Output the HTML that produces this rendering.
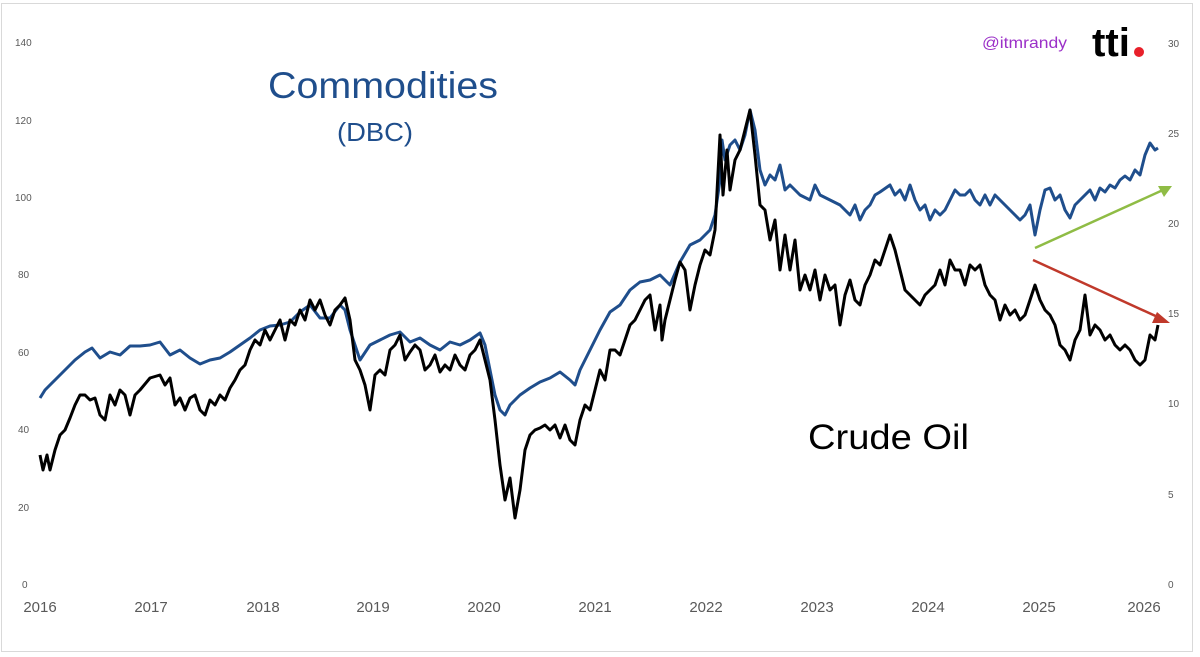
<!DOCTYPE html>
<html><head><meta charset="utf-8"><style>
body{margin:0;background:#fff;}
svg{display:block;font-family:"Liberation Sans",sans-serif;}
</style></head><body>
<svg width="1200" height="657" viewBox="0 0 1200 657">
<rect x="1.5" y="3.5" width="1191" height="648" fill="#fff" stroke="#d9d9d9"/>
<g font-size="10" fill="#595959">
<text x="22" y="588">0</text><text x="18" y="511">20</text><text x="18" y="433">40</text><text x="18" y="356">60</text><text x="18" y="278">80</text><text x="15" y="201">100</text><text x="15" y="124">120</text><text x="15" y="46">140</text>
<text x="1168" y="588">0</text><text x="1168" y="498">5</text><text x="1168" y="407">10</text><text x="1168" y="317">15</text><text x="1168" y="227">20</text><text x="1168" y="137">25</text><text x="1168" y="47">30</text>
</g>
<g font-size="15" fill="#595959" text-anchor="middle">
<text x="40" y="612">2016</text><text x="151" y="612">2017</text><text x="263" y="612">2018</text><text x="373" y="612">2019</text><text x="484" y="612">2020</text><text x="595" y="612">2021</text><text x="706" y="612">2022</text><text x="817" y="612">2023</text><text x="928" y="612">2024</text><text x="1039" y="612">2025</text><text x="1144" y="612">2026</text>
</g>
<text x="268" y="98" font-size="37" fill="#1f4e8c" textLength="230" lengthAdjust="spacingAndGlyphs">Commodities</text>
<text x="337" y="141" font-size="26" fill="#1f4e8c" textLength="76" lengthAdjust="spacingAndGlyphs">(DBC)</text>
<text x="808" y="449" font-size="35" fill="#000" textLength="161" lengthAdjust="spacingAndGlyphs">Crude Oil</text>
<text x="982" y="48" font-size="16" fill="#9b30c8" textLength="85" lengthAdjust="spacingAndGlyphs">@itmrandy</text>
<text x="1092" y="56" font-size="40" font-weight="bold" fill="#000" textLength="38" lengthAdjust="spacingAndGlyphs">tti</text>
<circle cx="1139" cy="52" r="5" fill="#e8202a"/>
<polyline fill="none" stroke="#1f4e8c" stroke-width="3" stroke-linejoin="round" points="40,398 45,390 55,380 65,370 75,360 85,352 92,348 100,358 110,352 120,355 130,346 140,346 150,345 160,342 170,355 180,350 190,358 200,364 210,360 220,358 230,352 240,345 250,338 260,330 270,326 280,325 290,322 300,312 310,305 320,318 330,318 340,305 345,310 350,330 355,345 360,360 370,345 380,340 390,335 400,332 410,342 420,338 430,345 440,350 450,342 460,345 470,340 480,333 485,345 490,370 495,395 500,410 505,415 510,405 515,400 520,395 530,388 540,382 550,378 560,372 570,380 575,385 580,370 590,350 600,330 610,312 620,305 630,290 640,282 650,280 660,275 670,285 680,262 690,245 700,240 710,230 715,215 720,180 722,140 725,160 730,145 735,140 740,150 745,135 750,110 755,130 760,170 765,185 770,175 775,180 780,165 785,190 790,185 800,195 810,200 815,185 820,195 830,200 840,205 850,215 855,205 860,220 865,210 870,205 875,195 880,192 890,185 895,195 900,190 905,200 910,185 915,200 920,210 925,205 930,220 935,210 940,215 945,210 950,200 955,190 960,195 965,195 970,190 975,200 980,205 985,195 990,205 995,195 1000,200 1005,205 1010,210 1015,215 1020,220 1025,215 1030,205 1035,235 1040,210 1045,190 1050,188 1055,200 1060,195 1065,210 1070,218 1075,205 1080,200 1085,195 1090,190 1095,200 1100,188 1105,192 1110,185 1115,188 1120,180 1125,176 1130,180 1135,170 1140,175 1145,155 1150,143 1155,150 1158,148"/>
<polyline fill="none" stroke="#000" stroke-width="3" stroke-linejoin="round" points="40,455 43,470 47,455 50,470 55,450 60,435 65,430 70,418 75,405 80,395 85,395 90,400 95,398 100,415 105,420 110,395 115,405 120,390 125,395 130,415 135,395 140,390 150,378 160,375 165,385 170,378 175,405 180,398 185,410 190,398 195,395 200,410 205,415 210,400 215,405 220,395 225,400 230,388 235,380 240,370 245,365 250,350 255,340 260,345 265,330 270,340 275,330 280,320 285,340 290,320 295,325 300,310 305,320 310,300 315,310 320,300 325,315 330,325 335,310 340,305 345,298 350,320 355,360 360,370 365,385 370,410 375,375 380,370 385,375 390,350 395,345 400,335 405,360 410,352 415,345 420,350 425,370 430,365 435,355 440,372 445,365 450,370 455,355 460,365 465,370 470,355 475,350 480,340 485,360 490,380 495,420 500,465 505,500 510,478 515,518 520,490 525,450 530,435 535,430 540,428 545,425 550,430 555,425 560,438 565,425 570,440 575,445 580,420 585,405 590,410 595,390 600,370 605,380 610,350 615,350 620,355 625,340 630,325 635,320 640,310 645,300 650,295 655,330 660,305 662,340 665,320 670,300 675,280 680,262 685,270 690,310 695,285 700,265 705,250 710,255 715,230 720,135 723,195 727,150 730,190 735,160 740,150 745,130 750,110 755,155 760,205 765,210 770,240 775,220 780,270 785,235 790,270 795,240 800,290 805,275 810,290 815,270 820,300 825,275 830,290 835,285 840,325 845,295 850,280 855,300 860,305 865,285 870,275 875,260 880,265 885,250 890,235 895,250 900,270 905,290 910,295 915,300 920,305 925,295 930,290 935,285 940,270 945,285 950,260 955,270 960,270 965,285 970,265 975,270 980,265 985,285 990,295 995,300 1000,320 1005,305 1010,315 1015,310 1020,320 1025,315 1030,300 1035,285 1040,300 1045,310 1050,315 1055,325 1060,345 1065,350 1070,360 1075,340 1080,330 1085,295 1090,335 1095,325 1100,330 1105,340 1110,335 1115,345 1120,350 1125,345 1130,350 1135,360 1140,365 1145,360 1150,335 1155,340 1158,325"/>
<line x1="1035" y1="248" x2="1163" y2="190" stroke="#8fbc45" stroke-width="2.5"/>
<polygon points="1172,186 1158,186 1164,197" fill="#8fbc45"/>
<line x1="1033" y1="260" x2="1160" y2="318" stroke="#c0392b" stroke-width="2.5"/>
<polygon points="1170,323 1157,312 1152,323" fill="#c0392b"/>
</svg>
</body></html>
